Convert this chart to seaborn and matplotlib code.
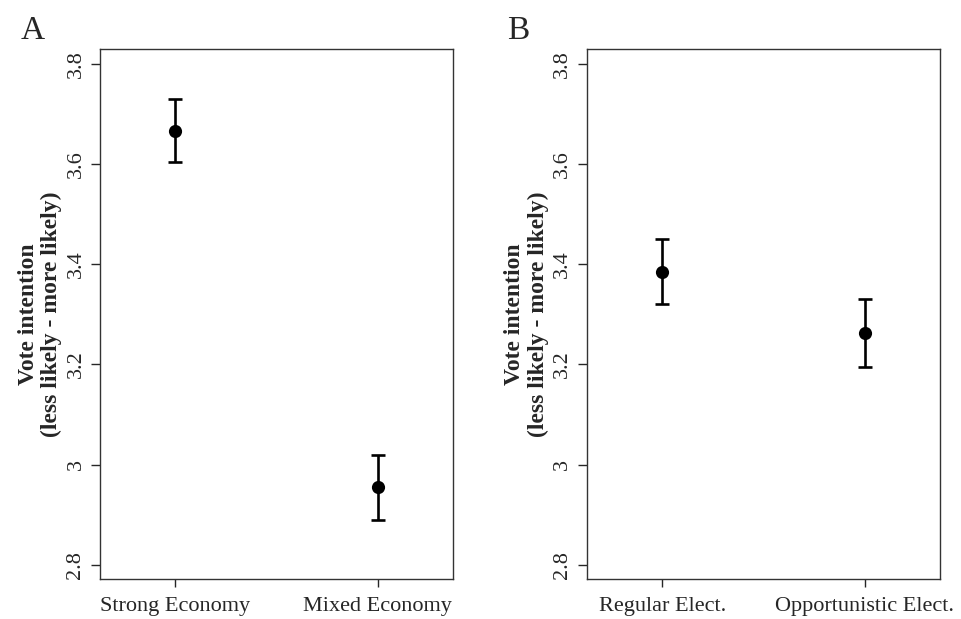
import numpy as np
import pandas as pd
import seaborn as sns
import matplotlib.pyplot as plt

# --- data ---
econ_labels = ["Strong Economy", "Mixed Economy"]
econ_mean = [3.667, 2.956]
econ_low = [3.604, 2.889]
econ_high = [3.730, 3.019]

elect_labels = ["Regular Elect.", "Opportunistic Elect."]
elect_mean = [3.385, 3.263]
elect_low = [3.320, 3.195]
elect_high = [3.451, 3.331]

yticks = [2.8, 3.0, 3.2, 3.4, 3.6, 3.8]
ytick_labels = ["2.8", "3", "3.2", "3.4", "3.6", "3.8"]

sns.set_style("ticks")
plt.rcParams['font.family'] = ['Liberation Serif', 'DejaVu Serif']

fig = plt.figure(figsize=(9.62, 6.19), dpi=100)
ax_a = fig.add_axes([0.1040, 0.0641, 0.3666, 0.8567])
ax_b = fig.add_axes([0.6099, 0.0641, 0.3673, 0.8567])


def panel(ax, labels, mean, low, high):
    df = pd.DataFrame({'cond': labels, 'mean': mean, 'low': low, 'high': high})
    err = np.vstack([df['mean'] - df['low'], df['high'] - df['mean']])
    ax.errorbar(df['cond'], df['mean'], yerr=err, fmt='none', ecolor='black',
                elinewidth=1.9, capsize=4.8, capthick=1.9)
    sns.scatterplot(data=df, x='cond', y='mean', ax=ax, color='black', s=90,
                    edgecolor='black', linewidth=0, zorder=3)
    ax.set_xlim(-0.373, 1.372)
    ax.set_ylim(2.771, 3.830)
    ax.set_yticks(yticks)
    ax.set_yticklabels(ytick_labels, rotation=90, va='center', fontsize=16)
    ax.tick_params(axis='x', labelsize=16, length=6, width=1, pad=7)
    ax.tick_params(axis='y', length=6.5, width=1, pad=4)
    ax.set_xlabel("")
    ax.set_ylabel("Vote intention\n(less likely - more likely)", fontsize=17,
                  fontweight='bold', labelpad=3, linespacing=1.15)
    for s in ax.spines.values():
        s.set_visible(True)
        s.set_linewidth(1)
        s.set_color('#333333')


panel(ax_a, econ_labels, econ_mean, econ_low, econ_high)
panel(ax_b, elect_labels, elect_mean, elect_low, elect_high)

fig.text(0.0343, 0.937, "A", fontsize=24, ha='center', va='baseline')
fig.text(0.5385, 0.937, "B", fontsize=24, ha='center', va='baseline')

fig.savefig("out.png", dpi=100)
